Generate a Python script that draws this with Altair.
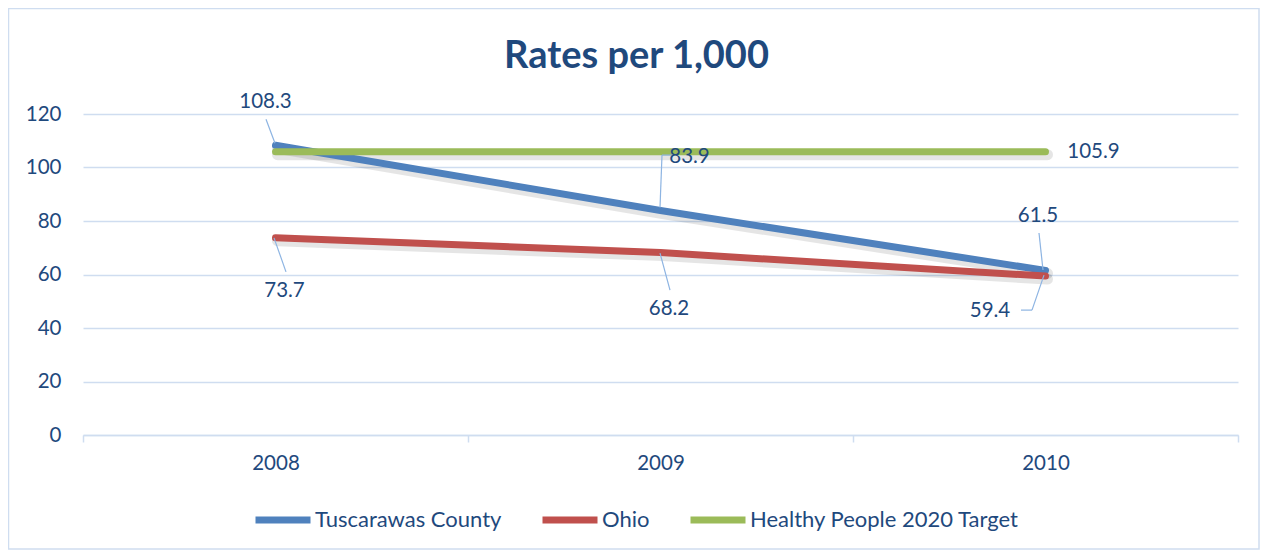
import altair as alt
import pandas as pd

# ---------------- data ----------------
years = ["2008", "2009", "2010"]
series_names = ["Tuscarawas County", "Ohio", "Healthy People 2020 Target"]
tuscarawas = [108.3, 83.9, 61.5]
ohio = [73.7, 68.2, 59.4]
target = [105.9, 105.9, 105.9]
y_ticks = [0, 20, 40, 60, 80, 100, 120]
title_text = "Rates per 1,000"

# ---------------- styles ----------------
colors = ["#4F81BD", "#C0504D", "#9BBB59"]
FONT = "Lato"
TXT = "#1F497D"
GRID = "#CFDDF0"
LEAD = "#8DB4E2"
FS = 20.5

rows = []
for name, vals in zip(series_names, [tuscarawas, ohio, target]):
    for yr, v in zip(years, vals):
        rows.append({"year": yr, "series": name, "value": v})
df = pd.DataFrame(rows)

W, H = 1155, 321
PAD = {"left": 75, "top": 106, "right": 23, "bottom": 115}

x_enc = alt.X(
    "year:N",
    bandPosition=0.5,
    scale=alt.Scale(type="band", paddingInner=0, paddingOuter=0, domain=years),
    axis=alt.Axis(
        title=None, tickBand="extent", labelAngle=0, grid=False,
        domainColor=GRID, domainWidth=1.5, tickColor=GRID, tickWidth=1.5, tickSize=7,
        labelFont=FONT, labelFontSize=FS, labelColor=TXT, labelPadding=11,
    ),
)
y_enc = alt.Y(
    "value:Q",
    scale=alt.Scale(domain=[0, 120], nice=False, zero=True),
    axis=alt.Axis(
        title=None, values=y_ticks, domain=False, ticks=False, grid=True,
        gridColor=GRID, gridWidth=1.5,
        labelFont=FONT, labelFontSize=FS, labelColor=TXT, labelPadding=22,
    ),
)

one = pd.DataFrame({"t": [title_text]})

border = alt.Chart(one).mark_rect(
    fillOpacity=0, stroke=GRID, strokeWidth=1.5
).encode(
    x=alt.value(-74.5), x2=alt.value(1176), y=alt.value(-105.5), y2=alt.value(435)
)

title = alt.Chart(one).mark_text(
    font=FONT, fontSize=38, fontWeight="bold", color=TXT, align="center", baseline="alphabetic"
).encode(x=alt.value(W / 2 - 24), y=alt.value(-46), text="t:N")

shadow = alt.Chart(df).mark_line(
    strokeWidth=11, color="#000000", opacity=0.10, xOffset=2, yOffset=3, strokeCap="round"
).encode(x=x_enc, y=y_enc, detail="series:N")

lines = alt.Chart(df).mark_line(strokeWidth=7, strokeCap="round", strokeJoin="round").encode(
    x=x_enc,
    y=y_enc,
    color=alt.Color(
        "series:N",
        scale=alt.Scale(domain=series_names, range=colors),
        legend=alt.Legend(
            title=None, orient="none", legendX=169, legendY=375, direction="horizontal",
            symbolType="stroke", symbolSize=3025, symbolStrokeWidth=7,
            labelFont=FONT, labelFontSize=22, labelColor=TXT, labelOffset=1,
            columnPadding=26, padding=0, labelLimit=400,
        ),
    ),
)

# label placement: (series, year, dx, dy, leader segments as pixel offsets from the point)
label_specs = [
    ("Tuscarawas County", "2008", -10, -43, [(-9.5, -26, -0.5, -2)]),
    ("Ohio", "2008", 9, 53, [(-1.5, 0, 10.5, 34)]),
    ("Tuscarawas County", "2009", 29, -54, [(-0.5, -3, 1.5, -55.5), (1.5, -55.5, 12.5, -55.5)]),
    ("Ohio", "2009", 8.5, 56, [(-0.5, 0.5, 9.5, 37.5)]),
    ("Healthy People 2020 Target", "2010", 48, 0, []),
    ("Tuscarawas County", "2010", -7.5, -54.5, [(-6.5, -37.5, -2.5, -0.5)]),
    ("Ohio", "2010", -55.5, 35, [(-24.5, 34, -13.5, 34), (-13.5, 34, -1.5, -1)]),
]

layers = [border, title, shadow, lines]
for s, yr, dx, dy, segs in label_specs:
    base = alt.Chart(df).transform_filter(
        (alt.datum.series == s) & (alt.datum.year == yr)
    )
    for (a, b, c, d) in segs:
        layers.append(
            base.mark_rule(color=LEAD, strokeWidth=1.2, xOffset=a, yOffset=b, x2Offset=c, y2Offset=d).encode(
                x=x_enc, y=y_enc, x2=alt.X2("year", bandPosition=0.5), y2=alt.Y2("value")
            )
        )
    layers.append(
        base.mark_text(dx=dx, dy=dy, font=FONT, fontSize=FS, color=TXT, align="center", baseline="middle").encode(
            x=x_enc, y=y_enc, text=alt.Text("value:Q", format=".1f")
        )
    )

chart = alt.layer(*layers).properties(
    width=W,
    height=H,
    padding=PAD,
    autosize=alt.AutoSizeParams(type="none"),
    background="white",
).configure_view(strokeWidth=0)

chart.save("out.html", embed_options={"renderer": "svg", "actions": False})
